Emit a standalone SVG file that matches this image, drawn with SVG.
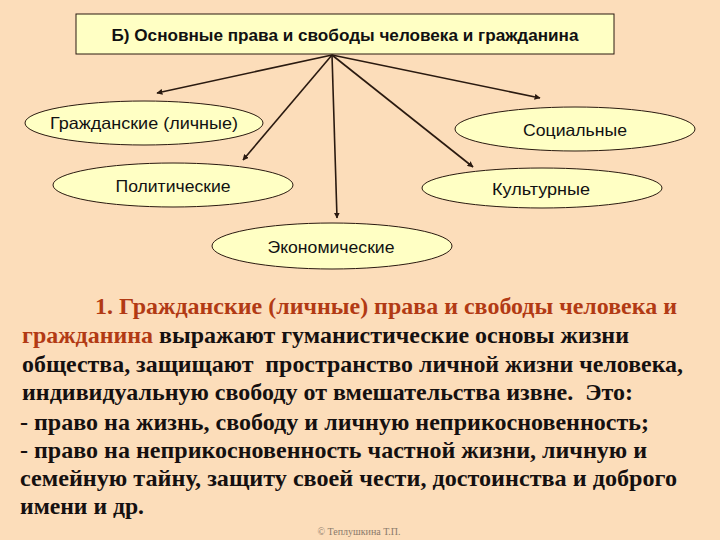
<svg xmlns="http://www.w3.org/2000/svg" width="720" height="540" viewBox="0 0 720 540">
<style>
.node{fill:#FFFFC4;stroke:#2a1a10;stroke-width:1}
.lbl{font-family:"Liberation Sans",Arial,sans-serif;font-size:16.5px;fill:#111;text-anchor:middle}
.ttl{font-family:"Liberation Sans",Arial,sans-serif;font-size:17px;font-weight:bold;fill:#111;text-anchor:middle}
.conn line{stroke:#2a1a10;stroke-width:1.6;marker-end:url(#ah)}
.p{font-family:"Liberation Serif","Times New Roman",serif;font-size:23px;font-weight:bold;fill:#151010}
.red{fill:#B23A14}
.copy{font-family:"Liberation Serif","Times New Roman",serif;font-size:10px;fill:#8a7a6a;text-anchor:middle}
</style>
<defs>
<marker id="ah" viewBox="0 0 10 10" refX="9" refY="5" markerWidth="6" markerHeight="6" markerUnits="userSpaceOnUse" orient="auto">
<path d="M0,0 L10,5 L0,10 z" fill="#2a1a10"/>
</marker>
</defs>
<rect width="720" height="540" fill="#FCDDBA"/>
<g id="title">
<rect class="node" x="76" y="14" width="538" height="40"/>
<text class="ttl" x="345" y="41" textLength="467" lengthAdjust="spacingAndGlyphs">Б) Основные права и свободы человека и гражданина</text>
</g>
<g id="connectors" class="conn">
<line x1="332" y1="55" x2="157" y2="93"/>
<line x1="332" y1="55" x2="243" y2="160"/>
<line x1="332" y1="55" x2="337" y2="218"/>
<line x1="332" y1="55" x2="540" y2="98"/>
<line x1="332" y1="55" x2="473" y2="167"/>
</g>
<g id="civil">
<ellipse class="node" cx="144" cy="123" rx="119" ry="22"/>
<text class="lbl" x="144" y="129" textLength="188" lengthAdjust="spacingAndGlyphs">Гражданские (личные)</text>
</g>
<g id="political">
<ellipse class="node" cx="173" cy="185" rx="120" ry="22"/>
<text class="lbl" x="173" y="192" textLength="115" lengthAdjust="spacingAndGlyphs">Политические</text>
</g>
<g id="social">
<ellipse class="node" cx="575" cy="129" rx="120" ry="22"/>
<text class="lbl" x="575" y="136" textLength="104" lengthAdjust="spacingAndGlyphs">Социальные</text>
</g>
<g id="cultural">
<ellipse class="node" cx="542" cy="188" rx="120" ry="20"/>
<text class="lbl" x="541" y="195" textLength="98" lengthAdjust="spacingAndGlyphs">Культурные</text>
</g>
<g id="economic">
<ellipse class="node" cx="332" cy="246" rx="120" ry="23"/>
<text class="lbl" x="331" y="253" textLength="127" lengthAdjust="spacingAndGlyphs">Экономические</text>
</g>
<g id="paragraph">
<text class="p red" x="95" y="314" textLength="582" lengthAdjust="spacingAndGlyphs">1. Гражданские (личные) права и свободы человека и</text>
<text class="p" x="22" y="343" textLength="607" lengthAdjust="spacingAndGlyphs"><tspan class="red">гражданина</tspan> выражают гуманистические основы жизни</text>
<text class="p" x="22" y="372" textLength="661" lengthAdjust="spacingAndGlyphs" xml:space="preserve">общества, защищают  пространство личной жизни человека,</text>
<text class="p" x="22" y="400" textLength="611" lengthAdjust="spacingAndGlyphs" xml:space="preserve">индивидуальную свободу от вмешательства извне.  Это:</text>
<text class="p" x="20" y="430" textLength="629" lengthAdjust="spacingAndGlyphs">- право на жизнь, свободу и личную неприкосновенность;</text>
<text class="p" x="20" y="458" textLength="627" lengthAdjust="spacingAndGlyphs">- право на неприкосновенность частной жизни, личную и</text>
<text class="p" x="20" y="486" textLength="657" lengthAdjust="spacingAndGlyphs">семейную тайну, защиту своей чести, достоинства и доброго</text>
<text class="p" x="20" y="514" textLength="124" lengthAdjust="spacingAndGlyphs">имени и др.</text>
</g>
<text class="copy" x="359" y="535">© Теплушкина Т.П.</text>
</svg>
